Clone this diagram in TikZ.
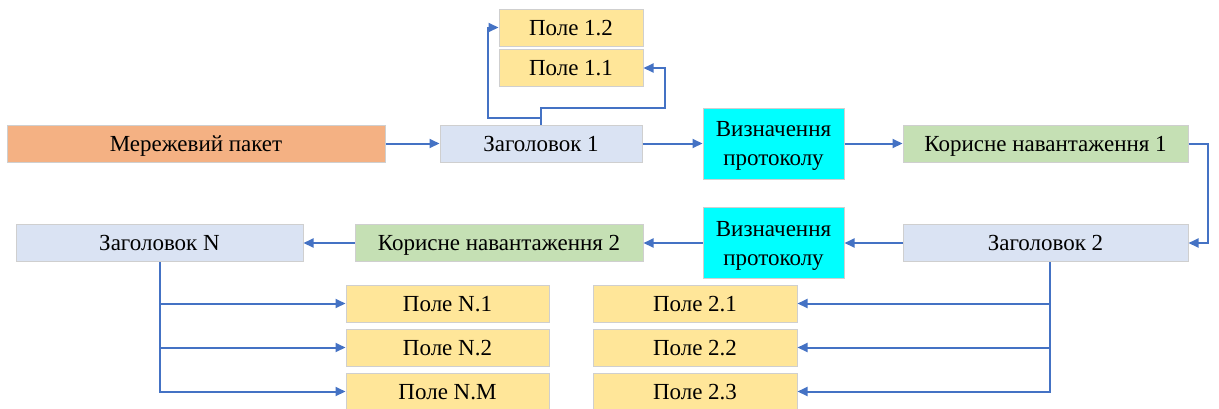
\documentclass[tikz,border=0pt]{standalone}
\usepackage{fontspec}
\setmainfont{Liberation Serif}
\newfontfamily\diagfont{Liberation Serif}
\usetikzlibrary{arrows.meta}
\definecolor{cpkt}{HTML}{F4B183}
\definecolor{chdr}{HTML}{DAE3F3}
\definecolor{cfld}{HTML}{FFE699}
\definecolor{cprot}{HTML}{00FFFF}
\definecolor{cpay}{HTML}{C5E0B4}
\definecolor{cline}{HTML}{4472C4}
\definecolor{cbord}{HTML}{CFCFCF}
\tikzset{
  box/.style={draw=cbord, line width=1pt, inner sep=0pt, align=center,
    font=\diagfont\fontsize{23}{29}\selectfont, minimum height=37pt, text=black,
    text depth=0pt},
  pkt/.style={box, fill=cpkt},
  hdr/.style={box, fill=chdr},
  fld/.style={box, fill=cfld},
  prot/.style={box, fill=cprot, minimum height=71pt, minimum width=141pt},
  pay/.style={box, fill=cpay},
  arr/.style={draw=cline, line width=2pt, -{Triangle[length=10pt,width=9pt]}}
}
\begin{document}
\begin{tikzpicture}[x=1pt,y=-1pt]
\useasboundingbox (0,0) rectangle (1219,408);
% row 1
\node[pkt, minimum width=378pt] (pkt) at (196,143.5) {Мережевий пакет};
\node[hdr, minimum width=202pt] (h1) at (541,143.5) {Заголовок 1};
\node[fld, minimum width=144pt] (f12) at (571,27.5) {Поле 1.2};
\node[fld, minimum width=144pt] (f11) at (571,68) {Поле 1.1};
\node[prot] (p1) at (773.5,143.5) {Визначення\\протоколу};
\node[pay, minimum width=285pt] (pay1) at (1045.5,143.5) {Корисне навантаження 1};
% row 2
\node[hdr, minimum width=285pt] (h2) at (1045.5,243) {Заголовок 2};
\node[prot] (p2) at (773.5,243) {Визначення\\протоколу};
\node[pay, minimum width=288pt] (pay2) at (499,243) {Корисне навантаження 2};
\node[hdr, minimum width=287pt] (hN) at (159.5,243) {Заголовок N};
% fields
\node[fld, minimum width=203pt] (fN1) at (447.5,303.5) {Поле N.1};
\node[fld, minimum width=203pt] (fN2) at (447.5,347.5) {Поле N.2};
\node[fld, minimum width=203pt] (fNM) at (447.5,391.5) {Поле N.M};
\node[fld, minimum width=204pt] (f21) at (695,303.5) {Поле 2.1};
\node[fld, minimum width=204pt] (f22) at (695,347.5) {Поле 2.2};
\node[fld, minimum width=204pt] (f23) at (695,391.5) {Поле 2.3};
% coordinates
\coordinate (k1) at (665,108);
\coordinate (k2) at (488,118);
\coordinate (k3) at (1208,143.5);
\coordinate (h2s) at ([xshift=4.5pt]h2.south);
% connectors
\draw[arr] (pkt.east) -- (h1.west);
\draw[arr] (h1.east) -- (p1.west);
\draw[arr] (p1.east) -- (pay1.west);
\draw[arr] (pay1.east) -- (k3) |- (h2.east);
\draw[arr] (h2.west) -- (p2.east);
\draw[arr] (p2.west) -- (pay2.east);
\draw[arr] (pay2.west) -- (hN.east);
\draw[arr] (h1.north) |- (k1) |- (f11.east);
\draw[arr] (h1.north) |- (k2) |- (f12.west);
\draw[arr] (h2s) |- (f21.east);
\draw[arr] (h2s) |- (f22.east);
\draw[arr] (h2s) |- (f23.east);
\draw[arr] (hN.south) |- (fN1.west);
\draw[arr] (hN.south) |- (fN2.west);
\draw[arr] (hN.south) |- (fNM.west);
\end{tikzpicture}
\end{document}
